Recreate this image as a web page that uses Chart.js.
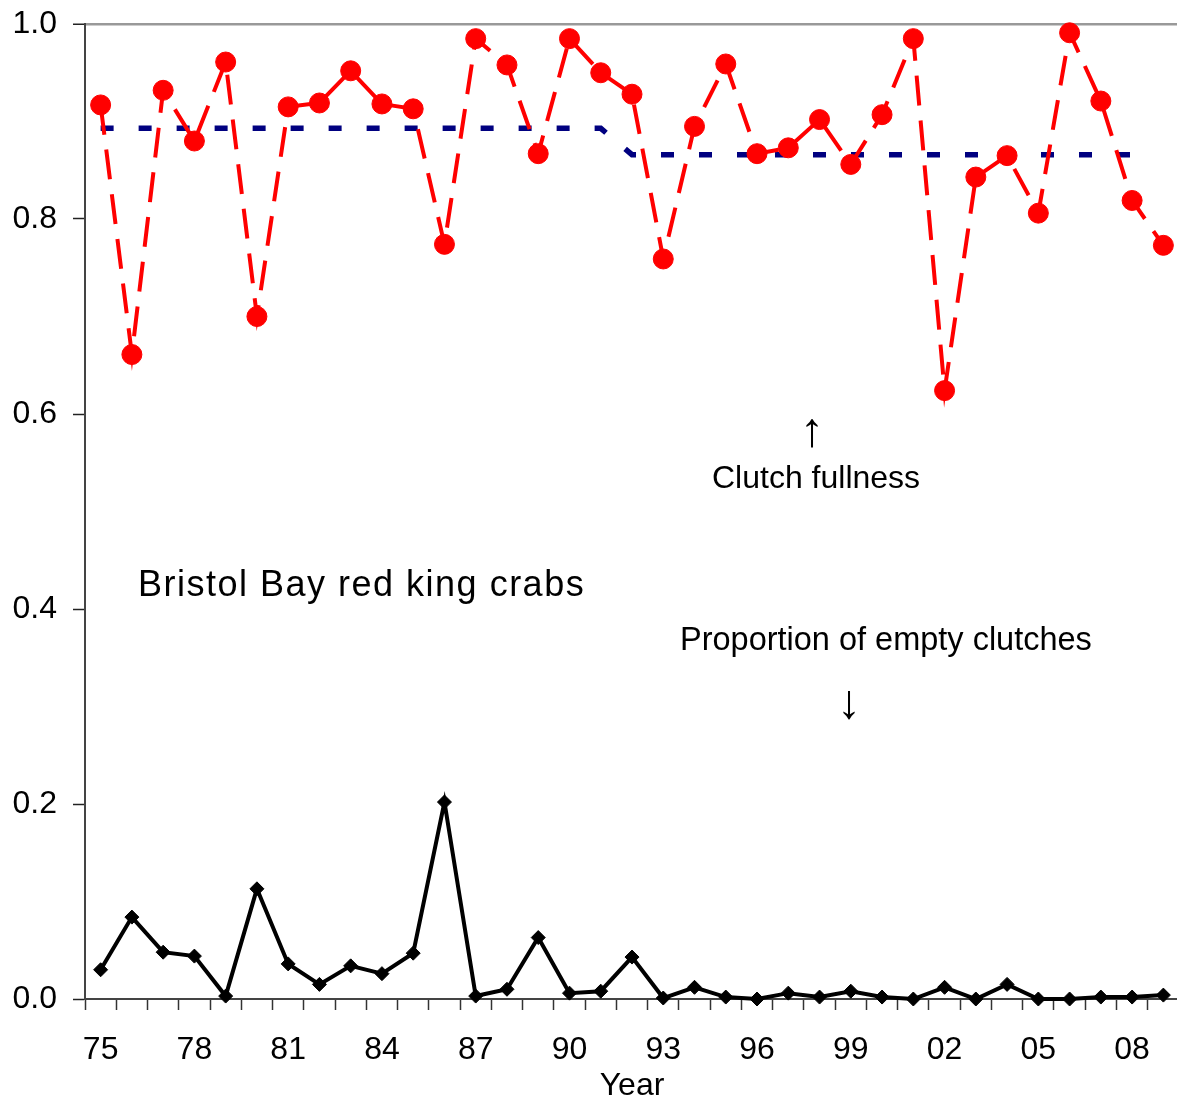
<!DOCTYPE html>
<html lang="en">
<head>
    <meta charset="UTF-8">
    <title>Bristol Bay red king crabs</title>
    <script src="https://cdn.jsdelivr.net/npm/chart.js"></script>
    <style>
        html, body {
            margin: 0;
            padding: 0;
            background: #fff;
            overflow: hidden;
        }
        canvas {
            display: block;
        }
    </style>
</head>
<body>
    <canvas id="crabChart" width="1190" height="1099"></canvas>

    <script>
        // Survey years (two-digit labels, 1975-2009)
        const years = ['75', '76', '77', '78', '79', '80', '81', '82', '83', '84',
                       '85', '86', '87', '88', '89', '90', '91', '92', '93', '94',
                       '95', '96', '97', '98', '99', '00', '01', '02', '03', '04',
                       '05', '06', '07', '08', '09'];

        // Clutch fullness (red dashed with circles)
        const clutchFullness = [0.917, 0.661, 0.932, 0.880, 0.961, 0.700, 0.915, 0.919, 0.952, 0.918,
                                0.913, 0.774, 0.985, 0.958, 0.867, 0.985, 0.950, 0.928, 0.759, 0.895,
                                0.959, 0.867, 0.873, 0.902, 0.856, 0.907, 0.985, 0.624, 0.843, 0.865,
                                0.806, 0.991, 0.921, 0.819, 0.773];

        // Period means of clutch fullness (blue dashed)
        const meanFullness = [0.893, 0.893, 0.893, 0.893, 0.893, 0.893, 0.893, 0.893, 0.893, 0.893,
                              0.893, 0.893, 0.893, 0.893, 0.893, 0.893, 0.893, 0.866, 0.866, 0.866,
                              0.866, 0.866, 0.866, 0.866, 0.866, 0.866, 0.866, 0.866, 0.866, 0.866,
                              0.866, 0.866, 0.866, 0.866, null];

        // Proportion of empty clutches (black with diamonds)
        const emptyClutches = [0.030, 0.084, 0.048, 0.044, 0.003, 0.113, 0.036, 0.015, 0.034, 0.026,
                               0.047, 0.202, 0.003, 0.010, 0.063, 0.006, 0.008, 0.043, 0.001, 0.012,
                               0.002, 0.000, 0.006, 0.002, 0.008, 0.002, 0.000, 0.012, 0.000, 0.015,
                               0.000, 0.000, 0.002, 0.002, 0.004];

        const yTicks = [0, 0.2, 0.4, 0.6, 0.8, 1.0];

        const FONT = "'Liberation Sans', Arial, sans-serif";

        // Free text annotations drawn on the canvas
        const annotations = {
            id: 'annotations',
            afterDraw(chart) {
                const ctx = chart.ctx;
                ctx.save();
                ctx.fillStyle = '#000';
                ctx.textBaseline = 'alphabetic';

                ctx.font = '32px ' + FONT;
                ctx.textAlign = 'left';
                ctx.fillText('Clutch fullness', 712, 488);
                ctx.font = '32.5px ' + FONT;
                ctx.fillText('Proportion of empty clutches', 680, 650);

                // arrows
                ctx.font = '48px ' + FONT;
                ctx.textAlign = 'center';
                ctx.fillText('\u2191', 812, 446);
                ctx.fillText('\u2193', 849, 718);

                ctx.textAlign = 'left';
                ctx.font = '36px ' + FONT;
                if ('letterSpacing' in ctx) ctx.letterSpacing = '1.5px';
                ctx.fillText('Bristol Bay red king crabs', 138, 596);
                ctx.restore();
            }
        };

        const chart = new Chart(document.getElementById('crabChart'), {
            type: 'line',
            data: {
                labels: years,
                datasets: [
                    {
                        label: 'Clutch fullness',
                        data: clutchFullness,
                        borderColor: '#ff0000',
                        backgroundColor: '#ff0000',
                        borderWidth: 4,
                        borderDash: [30, 15],
                        pointRadius: 10,
                        pointBorderWidth: 1,
                        pointBackgroundColor: '#ff0000',
                        pointBorderColor: '#ff0000',
                        tension: 0,
                        clip: false
                    },
                    {
                        label: 'Mean clutch fullness',
                        data: meanFullness,
                        borderColor: '#000080',
                        borderWidth: 5.5,
                        borderDash: [13, 25],
                        pointRadius: 0,
                        spanGaps: false,
                        tension: 0
                    },
                    {
                        label: 'Proportion of empty clutches',
                        data: emptyClutches,
                        borderColor: '#000',
                        backgroundColor: '#000',
                        borderWidth: 4,
                        pointStyle: 'rectRot',
                        pointRadius: 7,
                        pointBorderWidth: 1,
                        pointBackgroundColor: '#000',
                        pointBorderColor: '#000',
                        tension: 0,
                        clip: false
                    }
                ]
            },
            options: {
                responsive: false,
                animation: false,
                devicePixelRatio: 1,
                layout: {
                    padding: { top: 24, right: 6, bottom: 0, left: 0 }
                },
                plugins: {
                    legend: { display: false },
                    tooltip: { enabled: false }
                },
                scales: {
                    x: {
                        offset: true,
                        grid: {
                            offset: true,
                            drawOnChartArea: false,
                            drawTicks: true,
                            tickLength: 11,
                            tickColor: '#333',
                            tickWidth: 1.5
                        },
                        border: { color: '#444', width: 2 },
                        ticks: {
                            autoSkip: false,
                            maxRotation: 0,
                            padding: 21,
                            color: '#000',
                            font: { family: FONT, size: 32 },
                            callback: function(value, index) {
                                return index % 3 === 0 ? years[index] : '';
                            }
                        },
                        title: {
                            display: true,
                            text: 'Year',
                            color: '#000',
                            font: { family: FONT, size: 32, lineHeight: 1 },
                            padding: { top: 0, bottom: -3 }
                        },
                        afterFit: function(scale) {
                            scale.height = 100;
                        }
                    },
                    y: {
                        min: 0,
                        max: 1,
                        afterBuildTicks: function(scale) {
                            scale.ticks = yTicks.map(v => ({ value: v }));
                        },
                        grid: {
                            drawOnChartArea: true,
                            color: ctx => ctx.tick && ctx.tick.value === 1 ? '#999' : 'rgba(0,0,0,0)',
                            lineWidth: ctx => ctx.tick && ctx.tick.value === 1 ? 2.5 : 1,
                            tickLength: 12,
                            tickColor: '#222',
                            tickWidth: 1.5
                        },
                        border: { color: '#444', width: 2 },
                        ticks: {
                            padding: 16,
                            color: '#000',
                            font: { family: FONT, size: 32 },
                            callback: value => Number(value).toFixed(1)
                        },
                        afterFit: function(scale) {
                            scale.width = 85;
                            scale.paddingTop = 0;
                            scale.paddingBottom = 0;
                        }
                    }
                }
            },
            plugins: [annotations]
        });
    </script>
</body>
</html>
